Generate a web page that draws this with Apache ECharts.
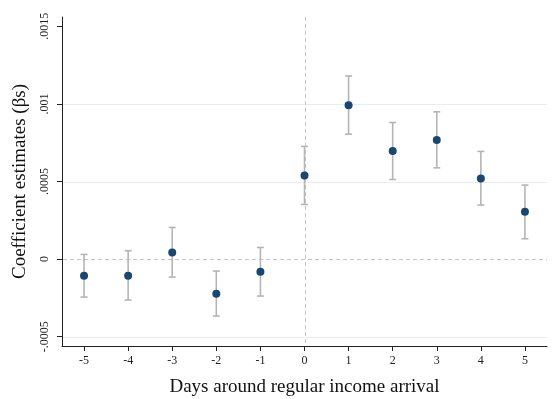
<!DOCTYPE html>
<html>
<head>
<meta charset="utf-8">
<script src="https://cdn.jsdelivr.net/npm/echarts@6/dist/echarts.min.js"></script>
<style>
html,body{margin:0;padding:0;background:#fff;}
#chart{width:554px;height:399px;}
</style>
</head>
<body>
<div id="chart"></div>
<script>
const days = ['-5','-4','-3','-2','-1','0','1','2','3','4','5'];
const estimates = [-0.000107, -0.000107, 0.000043, -0.000223, -0.000082, 0.000539, 0.000992, 0.000696, 0.000768, 0.000520, 0.000305];
const ciLow = [-0.000245, -0.000264, -0.000116, -0.000367, -0.000238, 0.000352, 0.000805, 0.000513, 0.000588, 0.000348, 0.000131];
const ciHigh = [0.000030, 0.000054, 0.000204, -0.000077, 0.000075, 0.000726, 0.001180, 0.000880, 0.000949, 0.000694, 0.000477];
const yTickValues = [-0.0005, 0, 0.0005, 0.001, 0.0015];
const yTickLabels = ['-.0005', '0', '.0005', '.001', '.0015'];
const gridValues = [-0.0005, 0.0005, 0.001];
const refDay = '0';
const refValue = 0;

const font = 'Liberation Serif';
const chart = echarts.init(document.getElementById('chart'), null, {renderer: 'canvas'});

const errData = days.map((d, i) => [i, ciLow[i], ciHigh[i]]);
const gridData = gridValues.map(v => [0, v]);
const refData = [[days.indexOf(refDay), refValue]];

chart.setOption({
  animation: false,
  backgroundColor: '#ffffff',
  grid: {left: 62, right: 7, top: 17, bottom: 53, containLabel: false, outerBoundsMode: 'none'},
  xAxis: {
    type: 'category',
    data: days,
    boundaryGap: true,
    name: 'Days around regular income arrival',
    nameLocation: 'middle',
    nameGap: 32,
    nameTextStyle: {fontFamily: font, fontSize: 19, color: '#111'},
    axisLine: {show: true, onZero: false, lineStyle: {color: '#222', width: 1}},
    axisTick: {show: true, alignWithLabel: true, length: 5, lineStyle: {color: '#222'}},
    axisLabel: {fontFamily: font, fontSize: 12, color: '#222', margin: 9},
    splitLine: {show: false}
  },
  yAxis: {
    type: 'value',
    min: -0.00056,
    max: 0.00156,
    name: 'Coefficient estimates (\u03b2s)',
    nameLocation: 'middle',
    nameGap: 32,
    nameRotate: 90,
    nameTextStyle: {fontFamily: font, fontSize: 19, color: '#111'},
    axisLine: {show: true, onZero: false, lineStyle: {color: '#222', width: 1}},
    axisTick: {show: true, length: 5, lineStyle: {color: '#222'}, customValues: yTickValues},
    axisLabel: {
      fontFamily: font, fontSize: 12, color: '#222', rotate: 90, margin: 11,
      customValues: yTickValues,
      formatter: function (v) {
        const i = yTickValues.findIndex(t => Math.abs(t - v) < 1e-9);
        return i >= 0 ? yTickLabels[i] : '';
      }
    },
    splitLine: {show: false}
  },
  series: [
    {
      type: 'custom',
      z: 0,
      silent: true,
      data: gridData,
      renderItem: function (params, api) {
        const cs = params.coordSys;
        const p = api.coord([0, api.value(1)]);
        const y = Math.round(p[1]) + 0.5;
        return {
          type: 'line',
          shape: {x1: cs.x + 1, y1: y, x2: cs.x + cs.width, y2: y},
          style: {stroke: '#e6eef0', lineWidth: 1}
        };
      }
    },
    {
      type: 'custom',
      z: 1,
      silent: true,
      data: refData,
      renderItem: function (params, api) {
        const cs = params.coordSys;
        const p = api.coord([api.value(0), api.value(1)]);
        const y = Math.round(p[1]) + 0.5;
        const x = Math.round(p[0]) + 0.5;
        const style = {stroke: '#c6c6c6', lineWidth: 1, lineDash: [4, 3]};
        return {
          type: 'group',
          children: [
            {type: 'line', shape: {x1: cs.x + 1, y1: y, x2: cs.x + cs.width, y2: y}, style: style},
            {type: 'line', shape: {x1: x, y1: cs.y, x2: x, y2: cs.y + cs.height - 1}, style: style}
          ]
        };
      }
    },
    {
      type: 'custom',
      z: 2,
      data: errData,
      renderItem: function (params, api) {
        const x = api.value(0);
        const lo = api.coord([x, api.value(1)]);
        const hi = api.coord([x, api.value(2)]);
        const cap = 3.5;
        const style = {stroke: '#b5b5b5', lineWidth: 1.6};
        return {
          type: 'group',
          children: [
            {type: 'line', shape: {x1: lo[0], y1: lo[1], x2: hi[0], y2: hi[1]}, style: style},
            {type: 'line', shape: {x1: lo[0] - cap, y1: lo[1], x2: lo[0] + cap, y2: lo[1]}, style: style},
            {type: 'line', shape: {x1: hi[0] - cap, y1: hi[1], x2: hi[0] + cap, y2: hi[1]}, style: style}
          ]
        };
      }
    },
    {
      type: 'scatter',
      z: 3,
      data: estimates,
      symbol: 'circle',
      symbolSize: 8,
      itemStyle: {color: '#1a476f', opacity: 1}
    }
  ]
});
</script>
</body>
</html>
